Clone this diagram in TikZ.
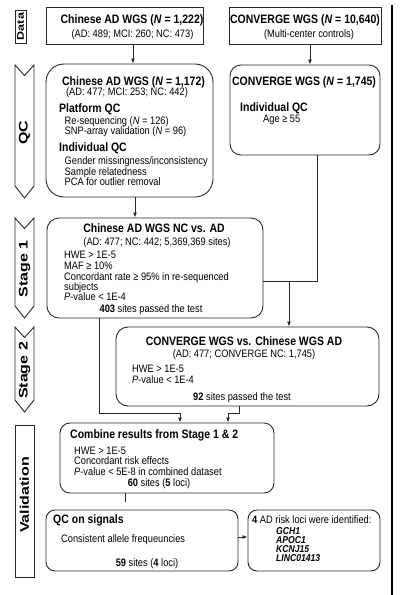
\documentclass[tikz,border=0pt]{standalone}
\usepackage{fontspec}
\setmainfont{Liberation Sans}[FakeStretch=0.86]
\newfontfamily\sidefont{Liberation Sans}[FakeStretch=1.28]
\usetikzlibrary{arrows.meta,positioning}
\definecolor{boxline}{RGB}{40,40,40}
\newcommand{\hd}{\fontsize{12.2}{14}\selectfont\bfseries}
\newcommand{\bd}{\fontsize{10.8}{12}\selectfont}

\begin{document}
\begin{tikzpicture}[x=1pt,y=-1pt,
    sbox/.style={draw=boxline,line width=0.9pt,inner sep=0pt},
    rbox/.style={sbox,rounded corners=#1},
    side/.style={draw=boxline,line width=0.9pt},
    sidetxt/.style={rotate=90,inner sep=0pt,font=\sidefont\fontsize{12.5}{14}\selectfont\bfseries},
    ttl/.style={inner sep=0pt,anchor=base,font=\hd},
    ttw/.style={inner sep=0pt,anchor=base west,font=\hd},
    txt/.style={inner sep=0pt,anchor=base,font=\bd},
    txw/.style={inner sep=0pt,anchor=base west,font=\bd},
    ln/.style={draw=boxline,line width=0.9pt},
    arr/.style={ln,-{Latex[length=5pt,width=4pt]}}]
  \useasboundingbox (0,0) rectangle (401,595);

  % left column labels
  \draw[side] (15,10) rectangle (26,43);
  \node[sidetxt,font=\sidefont\fontsize{9.8}{12}\selectfont\bfseries] (lblData) at (20.5,26.5) {Data};
  \foreach \tp/\bt/\nm/\lbl in {65/198/lblQC/QC, 218/318/lblOne/Stage 1, 327/412/lblTwo/Stage 2} {
    \draw[side] (15,\tp) -- (24.5,\tp+10.5) -- (34,\tp) -- (34,\bt-12) -- (24.5,\bt) -- (15,\bt-12) -- cycle;
    \node[sidetxt] (\nm) at (24.5,{(\tp+\bt)/2+1}) {\lbl};
  }
  \draw[side] (15,425) rectangle (34,577);
  \node[sidetxt] (lblVal) at (24.5,495) {Validation};

  % Data
  \node[sbox,minimum width=157pt,minimum height=37pt] (dataCN) at (124.5,25.5) {};
  \node[ttl] (dataCNt) at (132,23) {Chinese AD WGS (\textit{N} = 1,222)};
  \node[txt] (dataCNs) at (132.5,37) {(AD: 489; MCI: 260; NC: 473)};
  \node[sbox,minimum width=152pt,minimum height=37pt] (dataCV) at (305,25.5) {};
  \node[ttl] (dataCVt) at (305,23) {CONVERGE WGS (\textit{N} = 10,640)};
  \node[txt] (dataCVs) at (309,37) {(Multi-center controls)};

  % QC
  \node[rbox=18pt,minimum width=167pt,minimum height=133pt] (qcCN) at (129.5,130.5) {};
  \node[ttl] (qcCNt) at (133.5,85) {Chinese AD WGS (\textit{N} = 1,172)};
  \node[txt] (qcCNs) at (127,95.5) {(AD: 477; MCI: 253; NC: 442)};
  \node[ttw] (qcPlat) at (59,112) {Platform QC};
  \node[txw] (qcPlat1) at (64.5,124.5) {Re-sequencing (\textit{N} = 126)};
  \node[txw] (qcPlat2) at (64.5,134.5) {SNP-array validation (\textit{N} = 96)};
  \node[ttw] (qcInd) at (59,151) {Individual QC};
  \foreach \t [count=\i from 0] in {Gender missingness/inconsistency, Sample relatedness, PCA for outlier removal}
    \node[txw] (qcInd\i) at (64.5,164.5+10.5*\i) {\t};
  \node[rbox=11pt,minimum width=150pt,minimum height=90pt] (qcCV) at (305,110) {};
  \node[ttl] (qcCVt) at (304,85) {CONVERGE WGS (\textit{N} = 1,745)};
  \node[ttw] (qcCVind) at (240,111) {Individual QC};
  \node[txw] (qcCVage) at (263,122.5) {Age ≥ 55};

  % Stage 1
  \node[rbox=12pt,minimum width=216pt,minimum height=100pt] (stageOne) at (155,268) {};
  \node[ttl] (stageOnet) at (154,232) {Chinese AD WGS NC vs. AD};
  \node[txt] (stageOnes) at (157,245.5) {(AD: 477; NC: 442; 5,369,369 sites)};
  \node[txw] (s1a) at (64,258.5) {HWE > 1E-5};
  \node[txw] (s1b) at (64,269.3) {MAF ≥ 10\%};
  \node[txw] (s1c) at (64,280) {Concordant rate ≥ 95\% in re-sequenced};
  \node[txw] (s1d) at (64,290.5) {subjects};
  \node[txw] (s1e) at (64,300.5) {\textit{P}-value < 1E-4};
  \node[txt] (s1res) at (151,312) {\textbf{403} sites passed the test};

  % Stage 2
  \node[rbox=12pt,minimum width=263pt,minimum height=79pt] (stageTwo) at (247.5,366.5) {};
  \node[ttl] (stageTwot) at (244,345) {CONVERGE WGS vs. Chinese WGS AD};
  \node[txt] (stageTwos) at (244,357.5) {(AD: 477; CONVERGE NC: 1,745)};
  \node[txw] (s2a) at (132,372.5) {HWE > 1E-5};
  \node[txw] (s2b) at (132,383.5) {\textit{P}-value < 1E-4};
  \node[txt] (s2res) at (242,400.5) {\textbf{92} sites passed the test};

  % Validation
  \node[rbox=10pt,minimum width=214pt,minimum height=70pt] (combine) at (167,458) {};
  \node[ttw] (combinet) at (70,438) {Combine results from Stage 1 \& 2};
  \node[txw] (cba) at (74,454.5) {HWE > 1E-5};
  \node[txw] (cbb) at (74,464.5) {Concordant risk effects};
  \node[txw] (cbc) at (74,475.5) {\textit{P}-value < 5E-8 in combined dataset};
  \node[txt] (cbres) at (159,486.5) {\textbf{60} sites (\textbf{5} loci)};

  \node[rbox=9pt,minimum width=192pt,minimum height=61pt] (signalQC) at (142,540.5) {};
  \node[ttw] (signalQCt) at (53,523) {QC on signals};
  \node[txw] (sqa) at (61,542.5) {Consistent allele frequeuncies};
  \node[txt] (sqres) at (147,566.5) {\textbf{59} sites (\textbf{4} loci)};

  \node[rbox=9pt,minimum width=132pt,minimum height=61pt] (riskLoci) at (314,540.5) {};
  \node[txw] (riskLocit) at (252,523.5) {\textbf{4} AD risk loci were identified:};
  \foreach \g [count=\i from 0] in {GCH1, APOC1, KCNJ15, LINC01413}
    \node[txw,font=\fontsize{10}{11}\selectfont\bfseries\itshape] (gene\i) at (276,534+9*\i) {\g};

  % connectors
  \draw[arr] ([xshift=8.5pt]dataCN.south) -- ([xshift=8.5pt]dataCN.south |- qcCN.north);
  \draw[arr] ([xshift=5pt]dataCV.south) -- ([xshift=5pt]dataCV.south |- qcCV.north);
  \draw[arr] ([xshift=5.5pt]qcCN.south) -- ([xshift=5.5pt]qcCN.south |- stageOne.north);
  \draw[ln] ([xshift=12pt]qcCV.south) |- ([yshift=-13pt]stageOne.east);
  \coordinate (mergeA) at (289,281);
  \draw[arr] (mergeA) -- (mergeA |- stageTwo.north);
  \coordinate (mergeL) at (180,413);
  \coordinate (mergeR) at (228,413);
  \draw[ln] ([xshift=-56pt]stageOne.south) |- (mergeL);
  \draw[arr] (mergeL) -- (mergeL |- combine.north);
  \draw[ln] ([xshift=-8.5pt]stageTwo.south) |- (mergeR);
  \draw[arr] (mergeR) -- (mergeR |- combine.north);
  \draw[ln] ([xshift=-42pt]combine.south) -- ++(0,9);
  \draw[arr] ([yshift=3.5pt]signalQC.east) -- ([yshift=3.5pt]signalQC.east -| riskLoci.west);

  % page edge
  \draw[line width=1.8pt] (392,5) -- (392,595);
\end{tikzpicture}
\end{document}
